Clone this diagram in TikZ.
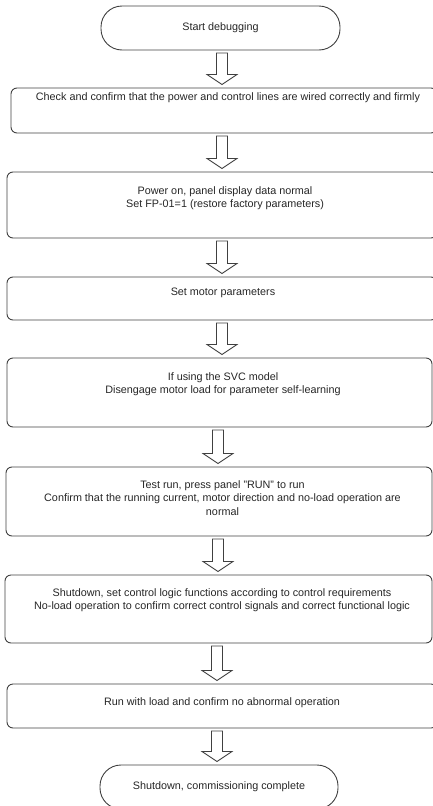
\documentclass[tikz,border=0pt]{standalone}
\usepackage{fontspec}
\setmainfont{Liberation Sans}
\usetikzlibrary{calc}
\newcommand\barrow[3]{%
  \draw[barr] let \p1=(#1.south), \p2=(#2.north) in
    ({#3pt-5.5pt},{\y1-3pt}) -- ({#3pt+5.5pt},{\y1-3pt}) -- ({#3pt+5.5pt},{\y2+13.5pt})
    -- ({#3pt+15pt},{\y2+13.5pt}) -- ({#3pt},{\y2+3.5pt}) -- ({#3pt-15pt},{\y2+13.5pt})
    -- ({#3pt-5.5pt},{\y2+13.5pt}) -- cycle;}
\begin{document}
\begin{tikzpicture}[x=1pt,y=-1pt,
  line/.style={draw=black!75, line width=0.9pt},
  box/.style={line, rounded corners=6pt, inner sep=0pt, outer sep=0pt, anchor=north west},
  term/.style={line, rounded corners=21pt, inner sep=0pt, outer sep=0pt, minimum height=44pt, minimum width=239pt, font=\fontsize{10.8}{13.5}\selectfont, text=black!85},
  txt/.style={anchor=north, inner sep=0pt, align=center, font=\fontsize{10.8}{13.5}\selectfont, text=black!85},
  barr/.style={line, fill=white, line join=miter}]
\useasboundingbox (0,0) rectangle (433,806);
\clip (0,0) rectangle (433,806);

\node[term] (start) at (220.5,28) {Start debugging};
\node[box, minimum width=426pt, minimum height=45pt] (b1) at (11,88) {};
\node[box, minimum width=430pt, minimum height=66pt] (b2) at (7,172) {};
\node[box, minimum width=430pt, minimum height=43pt] (b3) at (7,277) {};
\node[box, minimum width=425pt, minimum height=69pt] (b4) at (7,358) {};
\node[box, minimum width=426pt, minimum height=69pt] (b5) at (6,467) {};
\node[box, minimum width=427pt, minimum height=68pt] (b6) at (5,575) {};
\node[box, minimum width=430pt, minimum height=44pt] (b7) at (7,684) {};
\node[term, minimum width=238pt] (end) at (219,787) {Shutdown, commissioning complete};

\node[txt] (t1) at (228,92) {Check and confirm that the power and control lines are wired correctly and firmly};
\node[txt] (t2) at (225,186) {Power on, panel display data normal\\Set FP-01=1 (restore factory parameters)};
\node[txt] (t3) at (223,288) {Set motor parameters};
\node[txt] (t4) at (223,372) {If using the SVC model\\Disengage motor load for parameter self-learning};
\node[txt] (t5) at (222.5,480) {Test run, press panel "RUN" to run\\Confirm that the running current, motor direction and no-load operation are\\normal};
\node[txt] (t6) at (222,588) {Shutdown, set control logic functions according to control requirements\\No-load operation to confirm correct control signals and correct functional logic};
\node[txt] (t7) at (222,697) {Run with load and confirm no abnormal operation};

\barrow{start}{b1}{222}
\barrow{b1}{b2}{222}
\barrow{b2}{b3}{222}
\barrow{b3}{b4}{222}
\barrow{b4}{b5}{218}
\barrow{b5}{b6}{218}
\barrow{b6}{b7}{217}
\barrow{b7}{end}{217}
\end{tikzpicture}
\end{document}
